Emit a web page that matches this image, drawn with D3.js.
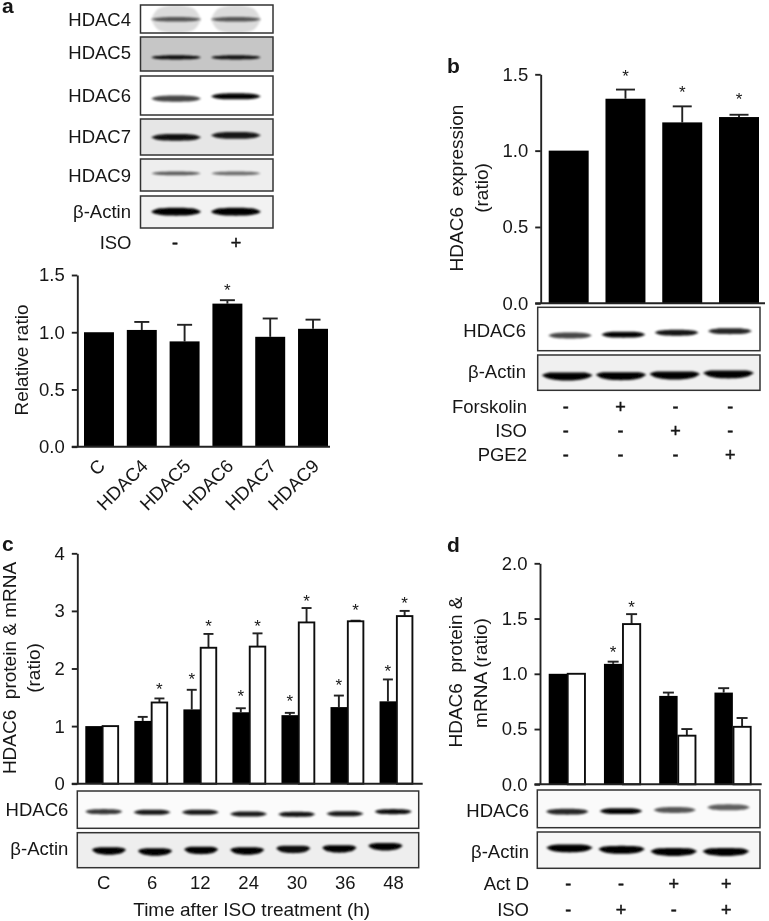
<!DOCTYPE html>
<html>
<head>
<meta charset="utf-8">
<script src="https://cdn.jsdelivr.net/npm/d3@7"></script>
<style>
  body { margin: 0; background: #fff; }
  text { font-family: "Liberation Sans", Arial, sans-serif; fill: #161616; white-space: pre; }
  .axis path, .axis line, .rule { stroke: #222; stroke-width: 1.9; fill: none; }
  .axis text { font-size: 18.5px; fill: #161616; font-family: "Liberation Sans", Arial, sans-serif; }
</style>
</head>
<body>
<svg id="chart" width="769" height="921"></svg>
<script>
// panel a
var aCategories = ['C', 'HDAC4', 'HDAC5', 'HDAC6', 'HDAC7', 'HDAC9'];
var aValues = [1.0, 1.02, 0.92, 1.25, 0.96, 1.03];
var aErrorTops = [1.0, 1.09, 1.065, 1.28, 1.12, 1.11];
var aStars = [null, null, null, 1.405, null, null];
var aTicks = [0, 0.5, 1.0, 1.5];
var aBlotNames = ['HDAC4', 'HDAC5', 'HDAC6', 'HDAC7', 'HDAC9', '\u03b2-Actin'];
var aBlotDensity = [[0.62, 0.62], [0.95, 0.92], [0.72, 0.98], [0.92, 0.9], [0.62, 0.55], [1, 1]];
var aBlotLevel = [[0.51, 0.51], [0.6, 0.6], [0.58, 0.52], [0.51, 0.455], [0.45, 0.45], [0.49, 0.49]];
var aIso = ['-', '+'];

// panel b
var bCategories = ['Control', 'Forskolin', 'ISO', 'PGE2'];
var bValues = [1.0, 1.34, 1.185, 1.22];
var bErrorTops = [1.0, 1.40, 1.29, 1.235];
var bStars = [null, 1.517, 1.41, 1.364];
var bTicks = [0, 0.5, 1.0, 1.5];
var bHdac6Density = [0.72, 0.98, 0.92, 0.85];
var bHdac6Level = [0.65, 0.63, 0.585, 0.55];
var bActinDensity = [1, 1, 1, 1];
var bActinLevel = [0.57, 0.56, 0.54, 0.51];
var bForskolin = ['-', '+', '-', '-'];
var bIso = ['-', '-', '+', '-'];
var bPge2 = ['-', '-', '-', '+'];

// panel c
var cCategories = ['C', '6', '12', '24', '30', '36', '48'];
var cProtein = [1.0, 1.09, 1.29, 1.24, 1.19, 1.33, 1.43];
var cProteinTops = [1.0, 1.16, 1.63, 1.31, 1.23, 1.53, 1.81];
var cProteinStars = [null, null, 1.89, 1.59, 1.51, 1.78, 2.03];
var cMrna = [1.0, 1.41, 2.36, 2.38, 2.80, 2.82, 2.91];
var cMrnaTops = [1.0, 1.48, 2.60, 2.61, 3.05, 2.83, 3.0];
var cMrnaStars = [null, 1.71, 2.81, 2.80, 3.25, 3.08, 3.21];
var cTicks = [0, 1, 2, 3, 4];
var cHdac6Density = [0.78, 0.9, 0.9, 0.9, 0.92, 0.9, 0.95];
var cHdac6Level = [0.555, 0.57, 0.57, 0.617, 0.625, 0.61, 0.555];
var cActinDensity = [1, 1, 1, 1, 0.96, 1, 1];
var cActinLevel = [0.49, 0.52, 0.475, 0.49, 0.445, 0.43, 0.37];

// panel d
var dCategories = ['Control', 'ISO', 'Act D', 'Act D + ISO'];
var dProtein = [1.0, 1.09, 0.80, 0.83];
var dProteinTops = [1.0, 1.11, 0.83, 0.87];
var dProteinStars = [null, 1.237, null, null];
var dMrna = [1.0, 1.45, 0.44, 0.52];
var dMrnaTops = [1.0, 1.54, 0.50, 0.60];
var dMrnaStars = [null, 1.644, null, null];
var dTicks = [0, 0.5, 1.0, 1.5, 2.0];
var dHdac6Density = [0.85, 0.98, 0.66, 0.62];
var dHdac6Level = [0.575, 0.56, 0.53, 0.46];
var dActinDensity = [1, 1, 1, 1];
var dActinLevel = [0.43, 0.47, 0.53, 0.53];
var dActD = ['-', '-', '+', '+'];
var dIso = ['-', '+', '-', '+'];

var svg = d3.select('#chart');
var defs = svg.append('defs');
defs.append('filter').attr('id', 'soft').attr('x', '-2%').attr('y', '-2%').attr('width', '104%').attr('height', '104%')
    .append('feGaussianBlur').attr('stdDeviation', 0.4);
defs.append('filter').attr('id', 'bandBlur').attr('x', '-20%').attr('y', '-100%').attr('width', '140%').attr('height', '300%')
    .append('feGaussianBlur').attr('stdDeviation', 1.1);

var root = svg.append('g').attr('filter', 'url(#soft)');

function label(x, y, str, opts) {
    opts = opts || {};
    return root.append('text')
        .attr('x', x).attr('y', y)
        .attr('text-anchor', opts.anchor || 'end')
        .style('font-size', (opts.size || 18.5) + 'px')
        .style('font-weight', opts.weight || 'normal')
        .text(str);
}

function yTitle(x, y, str) {
    root.append('text')
        .attr('transform', 'translate(' + x + ',' + y + ') rotate(-90)')
        .attr('text-anchor', 'middle')
        .style('font-size', '19px')
        .text(str);
}

/**
 * Bar panel: one or two series per category, each with error tops and stars.
 */
function barPanel(o) {
    var y = d3.scaleLinear().domain(o.domain).range([o.bottom, o.top]);
    var x0 = d3.scaleBand().domain(o.categories).range([o.left, o.right]).paddingInner(o.padding);
    var seriesNames = o.series.map(function(s) { return s.name; });
    var x1 = d3.scaleBand().domain(seriesNames).range([0, x0.bandwidth()]);
    var g = root.append('g');

    o.series.forEach(function(s) {
        var cx = function(i) { return x0(o.categories[i]) + x1(s.name) + x1.bandwidth() / 2; };

        // error bars go under the bars, control bars have none
        var err = g.append('g').selectAll('g')
            .data(s.tops.map(function(v, i) { return {top: v, value: s.values[i], i: i}; })
                .filter(function(d) { return d.top > d.value; }))
            .enter().append('g');
        err.append('line').attr('class', 'rule')
            .attr('x1', function(d) { return cx(d.i); })
            .attr('x2', function(d) { return cx(d.i); })
            .attr('y1', function(d) { return y(d.value); })
            .attr('y2', function(d) { return y(d.top); });
        err.append('line').attr('class', 'rule')
            .attr('x1', function(d) { return cx(d.i) - o.cap / 2; })
            .attr('x2', function(d) { return cx(d.i) + o.cap / 2; })
            .attr('y1', function(d) { return y(d.top); })
            .attr('y2', function(d) { return y(d.top); });

        g.append('g').selectAll('rect').data(s.values).enter().append('rect')
            .attr('x', function(d, i) { return x0(o.categories[i]) + x1(s.name) + (s.hollow ? 0.6 : 0); })
            .attr('y', function(d) { return y(d); })
            .attr('width', x1.bandwidth() - (s.hollow ? 1.2 : 0))
            .attr('height', function(d) { return y(0) - y(d); })
            .attr('fill', s.hollow ? '#fff' : '#000')
            .attr('stroke', s.hollow ? '#111' : 'none')
            .attr('stroke-width', 1.9);

        g.append('g').selectAll('text')
            .data(s.stars.map(function(v, i) { return {v: v, i: i}; }).filter(function(d) { return d.v !== null; }))
            .enter().append('text')
            .attr('x', function(d) { return cx(d.i); })
            .attr('y', function(d) { return y(d.v) + 10; })
            .attr('text-anchor', 'middle')
            .style('font-size', '17px')
            .text('*');
    });

    g.append('g').attr('class', 'axis')
        .attr('transform', 'translate(' + o.axisX + ',0)')
        .call(d3.axisLeft(y).tickValues(o.ticks).tickFormat(d3.format(o.format)).tickSize(5.5).tickSizeOuter(0).tickPadding(7));
    g.append('line').attr('class', 'rule')
        .attr('x1', o.axisX - 5.5).attr('x2', o.axisEnd)
        .attr('y1', y(0)).attr('y2', y(0));
    return {g: g, x0: x0, y: y};
}

/**
 * A blot strip: framed rectangle with one blurred band per lane.
 */
function blot(o) {
    var lanes = d3.scaleBand().domain(d3.range(o.density.length)).range([o.x0, o.x1]).paddingInner(o.gap);
    var level = d3.scaleLinear().domain([0, 1]).range([o.y0, o.y1]);
    var t = d3.range(0, 1.001, 0.1);
    var g = root.append('g');

    g.append('rect')
        .attr('x', o.left).attr('y', o.y0)
        .attr('width', o.right - o.left).attr('height', o.y1 - o.y0)
        .attr('fill', o.bg);

    var clipId = 'clip' + Math.round(o.left) + '_' + Math.round(o.y0);
    defs.append('clipPath').attr('id', clipId).append('rect')
        .attr('x', o.left).attr('y', o.y0)
        .attr('width', o.right - o.left).attr('height', o.y1 - o.y0);
    var bands = g.append('g').attr('clip-path', 'url(#' + clipId + ')');

    o.density.forEach(function(d, i) {
        var xs = d3.scaleLinear().domain([0, 1]).range([lanes(i), lanes(i) + lanes.bandwidth()]);
        var cy = level(o.level[i]);
        var mid = function(p) {
            return cy + (o.sag || 0) * Math.sin(Math.PI * p) + (o.slope || 0) * (xs(p) - xs(0.5));
        };
        var shape = function(thick) {
            return d3.area()
                .x(function(p) { return xs(p); })
                .y0(function(p) { return mid(p) - thick / 2 * Math.pow(Math.sin(Math.PI * p), 0.3); })
                .y1(function(p) { return mid(p) + thick / 2 * Math.pow(Math.sin(Math.PI * p), 0.3); })
                .curve(d3.curveBasis)(t);
        };
        if (o.halo) {
            bands.append('path').attr('d', shape(o.halo)).attr('fill', '#000').attr('opacity', 0.14)
                .attr('filter', 'url(#bandBlur)');
        }
        bands.append('path').attr('d', shape(o.thick)).attr('fill', '#000').attr('opacity', d)
            .attr('filter', 'url(#bandBlur)');
    });

    g.append('rect')
        .attr('x', o.left).attr('y', o.y0)
        .attr('width', o.right - o.left).attr('height', o.y1 - o.y0)
        .attr('fill', 'none').attr('stroke', '#333').attr('stroke-width', 1.5);
}

// +/- rows under the blots
function signRow(signs, from, to, baseline) {
    var x = d3.scalePoint().domain(d3.range(signs.length)).range([from, to]);
    root.append('g').selectAll('text').data(signs).enter().append('text')
        .attr('x', function(d, i) { return x(i); })
        .attr('y', baseline)
        .attr('text-anchor', 'middle')
        .style('font-size', '18px')
        .style('stroke', '#161616')
        .style('stroke-width', 0.5)
        .text(function(d) { return d; });
}

// ---- panel a ----
label(2, 13, 'a', {anchor: 'start', size: 21, weight: 'bold'});
var aFrames = [[5, 33, '#fff', 4.5, 28], [37, 71, '#c6c6c6', 4.2, 0], [76, 115, '#fff', 6.2, 0], [119, 155, '#e6e6e6', 7, 0], [159, 191, '#eee', 3.8, 0], [196, 228, '#f2f2f2', 8, 0]];
var aBaselines = [25.7, 59, 101.7, 143.3, 181.7, 218];
aBlotNames.forEach(function(name, i) {
    label(131, aBaselines[i], name);
    blot({
        left: 140.5, right: 273, x0: 151, x1: 261, gap: 0.16,
        y0: aFrames[i][0], y1: aFrames[i][1], bg: aFrames[i][2],
        thick: aFrames[i][3], halo: aFrames[i][4],
        density: aBlotDensity[i], level: aBlotLevel[i]
    });
});
label(131.5, 249, 'ISO');
signRow(aIso, 175, 236, 249);

var aPanel = barPanel({
    categories: aCategories, domain: [0, 1.5], ticks: aTicks, format: '.1f',
    left: 84, right: 328, padding: 0.3, top: 275, bottom: 446.7,
    axisX: 77.3, axisEnd: 330, cap: 15,
    series: [{name: 'ratio', values: aValues, tops: aErrorTops, stars: aStars}]
});
aPanel.g.append('g').selectAll('text').data(aCategories).enter().append('text')
    .attr('transform', function(d) {
        return 'translate(' + (aPanel.x0(d) + aPanel.x0.bandwidth() / 2 - 2) + ',458) rotate(-45)';
    })
    .attr('text-anchor', 'end')
    .attr('dy', '0.7em')
    .style('font-size', '18.5px')
    .text(function(d) { return d; });
yTitle(28, 360, 'Relative ratio');

// ---- panel b ----
label(447, 73, 'b', {anchor: 'start', size: 21, weight: 'bold'});
barPanel({
    categories: bCategories, domain: [0, 1.5], ticks: bTicks, format: '.1f',
    left: 548.7, right: 759, padding: 0.296, top: 74.3, bottom: 303.3,
    axisX: 540.7, axisEnd: 765, cap: 19,
    series: [{name: 'ratio', values: bValues, tops: bErrorTops, stars: bStars}]
});
yTitle(463, 188, 'HDAC6  expression');
yTitle(488, 188, '(ratio)');
blot({left: 537.7, right: 760, x0: 548, x1: 752, gap: 0.17, y0: 307.3, y1: 350.7, bg: '#fff',
    thick: 6, density: bHdac6Density, level: bHdac6Level});
blot({left: 537.7, right: 760, x0: 541.7, x1: 754, gap: 0.05, y0: 355, y1: 390.3, bg: '#f0f0f0',
    thick: 8, sag: 1.5, density: bActinDensity, level: bActinLevel});
label(526, 337, 'HDAC6');
label(526, 378, '\u03b2-Actin');
label(527, 413, 'Forskolin');
label(527, 436.7, 'ISO');
label(527, 460.7, 'PGE2');
signRow(bForskolin, 565.7, 730.3, 413);
signRow(bIso, 565.7, 730.3, 436.7);
signRow(bPge2, 565.7, 730.3, 460.7);

// ---- panel c ----
label(2, 550.7, 'c', {anchor: 'start', size: 21, weight: 'bold'});
barPanel({
    categories: cCategories, domain: [0, 4], ticks: cTicks, format: 'd',
    left: 85.3, right: 413, padding: 0.318, top: 553.3, bottom: 783.7,
    axisX: 77.3, axisEnd: 422.7, cap: 10,
    series: [
        {name: 'protein', values: cProtein, tops: cProteinTops, stars: cProteinStars},
        {name: 'mRNA', values: cMrna, tops: cMrnaTops, stars: cMrnaStars, hollow: true}
    ]
});
yTitle(16, 668, 'HDAC6  protein & mRNA');
yTitle(40, 668, '(ratio)');
blot({left: 77.3, right: 418.7, x0: 85, x1: 412, gap: 0.22, y0: 791, y1: 828.3, bg: '#fbfbfb',
    thick: 5.2, density: cHdac6Density, level: cHdac6Level});
blot({left: 77.3, right: 418.7, x0: 91.7, x1: 402.7, gap: 0.25, y0: 832.7, y1: 867.7, bg: '#eee',
    thick: 7.5, sag: 1.2, density: cActinDensity, level: cActinLevel});
label(68.3, 815.7, 'HDAC6');
label(68.3, 855, '\u03b2-Actin');
var cLabels = d3.scalePoint().domain(cCategories).range([103.3, 393]);
root.append('g').attr('class', 'axis')
    .attr('transform', 'translate(0,872)')
    .call(d3.axisBottom(cLabels).tickSize(0).tickPadding(4))
    .call(function(a) { a.select('.domain').remove(); });
label(251.7, 916, 'Time after ISO treatment (h)', {anchor: 'middle', size: 19});

// ---- panel d ----
label(447, 551.7, 'd', {anchor: 'start', size: 21, weight: 'bold'});
barPanel({
    categories: dCategories, domain: [0, 2], ticks: dTicks, format: '.1f',
    left: 548.7, right: 751.3, padding: 0.333, top: 563.3, bottom: 784.3,
    axisX: 540, axisEnd: 761.7, cap: 11,
    series: [
        {name: 'protein', values: dProtein, tops: dProteinTops, stars: dProteinStars},
        {name: 'mRNA', values: dMrna, tops: dMrnaTops, stars: dMrnaStars, hollow: true}
    ]
});
yTitle(462, 672, 'HDAC6  protein &');
yTitle(487, 673, 'mRNA (ratio)');
blot({left: 537.3, right: 760, x0: 545.7, x1: 750, gap: 0.2, y0: 790, y1: 827.7, bg: '#fafafa',
    thick: 6, density: dHdac6Density, level: dHdac6Level});
blot({left: 537.3, right: 760, x0: 546, x1: 749.3, gap: 0.1, y0: 832, y1: 868.3, bg: '#f6f6f6',
    thick: 8, sag: 0.8, density: dActinDensity, level: dActinLevel});
label(529, 816.7, 'HDAC6');
label(529, 858, '\u03b2-Actin');
label(529, 890, 'Act D');
label(529, 915.7, 'ISO');
signRow(dActD, 568.3, 726.3, 890);
signRow(dIso, 568.3, 726.3, 915.7);
</script>
</body>
</html>
